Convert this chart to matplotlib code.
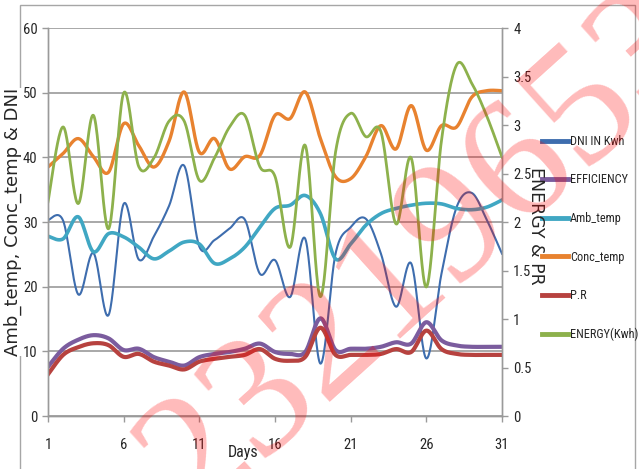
import numpy as np
import matplotlib
matplotlib.use("Agg")
import matplotlib.pyplot as plt
from matplotlib.patches import Rectangle
from matplotlib.font_manager import FontProperties

# ---------------- data ----------------
days = list(range(1, 32))
dni = [30.3, 30.2, 18.8, 25.2, 15.6, 32.8, 24.2, 27.8, 32.5, 38.7, 26.2, 27.2, 29.0, 30.4, 22.0, 24.1,
       18.4, 27.4, 8.1, 25.1, 29.2, 30.5, 25.1, 16.9, 23.6, 8.9, 22.0, 32.3, 34.5, 30.3, 25.1]
efficiency = [7.6, 10.4, 11.8, 12.5, 12.0, 10.2, 10.4, 9.1, 8.4, 7.8, 9.1, 9.6, 9.9, 10.4, 11.2, 9.9,
              9.6, 9.9, 15.1, 10.2, 10.4, 10.4, 10.7, 11.4, 11.2, 14.5, 11.7, 10.9, 10.7, 10.7, 10.7]
amb_temp = [27.8, 27.4, 30.8, 25.4, 28.2, 27.7, 26.1, 24.3, 25.5, 26.9, 26.6, 23.6, 24.3, 26.1, 29.2, 32.1,
            32.6, 34.1, 31.3, 24.3, 26.6, 29.5, 31.3, 32.1, 32.6, 32.9, 32.8, 32.1, 31.9, 32.3, 33.4]
conc_temp = [38.5, 40.6, 42.9, 40.1, 37.7, 45.2, 41.8, 38.5, 42.5, 50.1, 40.8, 42.9, 38.2, 40.1, 40.3, 46.5,
             46.0, 50.1, 42.9, 37.0, 36.7, 40.1, 44.9, 41.3, 48.0, 41.1, 44.9, 44.7, 49.3, 50.3, 50.3]
pr = [0.43, 0.63, 0.71, 0.75, 0.73, 0.61, 0.64, 0.56, 0.52, 0.48, 0.56, 0.59, 0.61, 0.63, 0.69, 0.59,
      0.57, 0.61, 0.91, 0.63, 0.63, 0.63, 0.64, 0.69, 0.66, 0.88, 0.69, 0.64, 0.63, 0.63, 0.63]
energy = [2.21, 2.98, 2.19, 3.10, 1.93, 3.33, 2.57, 2.66, 3.04, 3.04, 2.43, 2.66, 2.98, 3.10, 2.57, 2.47,
          1.74, 2.79, 1.23, 2.72, 3.12, 2.88, 2.93, 1.98, 2.66, 1.33, 2.84, 3.62, 3.43, 3.09, 2.67]

x_ticks = [1, 6, 11, 16, 21, 26, 31]
left_ticks = [0, 10, 20, 30, 40, 50, 60]
right_ticks = [0, 0.5, 1, 1.5, 2, 2.5, 3, 3.5, 4]
right_tick_labels = ['0', '0.5', '1', '1.5', '2', '2.5', '3', '3.5', '4']
watermark = "23219653"


def smooth(x, y, n=24):
    """Excel-like smoothed line (Catmull-Rom Bezier through the data points)."""
    pts = np.column_stack([x, y]).astype(float)
    P = np.vstack([pts[0], pts, pts[-1]])
    segs = []
    t = np.linspace(0, 1, n, endpoint=False)[:, None]
    for i in range(1, len(P) - 2):
        p0, p1, p2, p3 = P[i - 1], P[i], P[i + 1], P[i + 2]
        c1 = p1 + (p2 - p0) / 6.0
        c2 = p2 - (p3 - p1) / 6.0
        b = (1 - t) ** 3 * p1 + 3 * (1 - t) ** 2 * t * c1 + 3 * (1 - t) * t ** 2 * c2 + t ** 3 * p2
        segs.append(b)
    segs.append(pts[-1:])
    s = np.vstack(segs)
    return s[:, 0], s[:, 1]


def narrow(size):
    return FontProperties(family=['Roboto Condensed', 'DejaVu Sans'], stretch='condensed', size=size)


TXT = '#262626'

fig = plt.figure(figsize=(6.39, 4.69), dpi=100)
ax = fig.add_axes([48 / 639, 1 - 416 / 469, (502 - 48) / 639, (416 - 28) / 469])
ax2 = ax.twinx()

c_dni = '#3E6DAE'
c_eff = '#7B5C9E'
c_amb = '#40A7C3'
c_conc = '#E8822F'
c_pr = '#B7423F'
c_en = '#8DB14C'

h = []
xs, ys = smooth(days, dni)
h += ax.plot(xs, ys, color=c_dni, lw=1.5, label='DNI IN Kwh')
xs, ys = smooth(days, efficiency)
h += ax.plot(xs, ys, color=c_eff, lw=3.0, label='EFFICIENCY')
xs, ys = smooth(days, amb_temp)
h += ax.plot(xs, ys, color=c_amb, lw=2.6, label='Amb_temp')
xs, ys = smooth(days, conc_temp)
h += ax.plot(xs, ys, color=c_conc, lw=2.4, label='Conc_temp')
xs, ys = smooth(days, pr)
h += ax2.plot(xs, ys, color=c_pr, lw=3.0, label='P.R')
xs, ys = smooth(days, energy)
h += ax2.plot(xs, ys, color=c_en, lw=2.0, label='ENERGY(Kwh)')

ax.set_xlim(1, 31)
ax.set_ylim(0, 60)
ax2.set_ylim(0, 4)
ax.set_xticks(x_ticks)
ax.set_yticks(left_ticks)
ax2.set_yticks(right_ticks)
ax2.set_yticklabels(right_tick_labels)

ax.grid(axis='y', color='#9a9a9a', lw=1.2)
ax.set_axisbelow(True)
for a in (ax, ax2):
    for s in a.spines.values():
        s.set_color('#9a9a9a')
        s.set_linewidth(1.0)
    a.spines['top'].set_visible(False)
ax.tick_params(axis='both', colors='#9a9a9a', labelcolor=TXT, length=4, width=1)
ax2.tick_params(axis='y', colors='#9a9a9a', labelcolor=TXT, length=4, width=1, pad=4)
ax.tick_params(axis='x', pad=12)
ax.tick_params(axis='y', pad=3.5)
for lab in ax.get_xticklabels() + ax.get_yticklabels() + ax2.get_yticklabels():
    lab.set_fontproperties(narrow(10.5))

fig.text(13 / 639, 1 - 222 / 469, 'Amb_temp, Conc_temp & DNI', rotation=90, ha='center', va='center',
         fontsize=13, color=TXT, bbox=dict(fc='white', ec='none', pad=0.3))
fig.text(536 / 639, 1 - 226 / 469, 'ENERGY & PR', rotation=-90, ha='center', va='center',
         fontsize=12.5, color=TXT)
fig.text(243 / 639, 1 - 452 / 469, 'Days', ha='center', va='center', fontproperties=narrow(11.5),
         color=TXT)

leg = ax2.legend(handles=h, loc='upper left', bbox_to_anchor=(537 / 639, 1 - 130 / 469),
                 bbox_transform=fig.transFigure, frameon=False, prop=narrow(8.8),
                 handlelength=2.1, handletextpad=0.2, labelspacing=2.09, borderaxespad=0)
for t in leg.get_texts():
    t.set_color(TXT)
for l in leg.get_lines():
    l.set_linewidth(3.5)

fig.add_artist(Rectangle((20 / 639, -0.05), (635 - 20) / 639, 0.05 + 1 - 5 / 469,
                         transform=fig.transFigure, fill=False, ec='#a6a6a6', lw=1.0, zorder=-5))

fig.text(424 / 639, 1 - 254 / 469, watermark, rotation=42, ha='center', va='center', fontsize=125,
         family='Liberation Serif', color='red', alpha=0.27, zorder=50)

fig.savefig('out.png', dpi=100)
